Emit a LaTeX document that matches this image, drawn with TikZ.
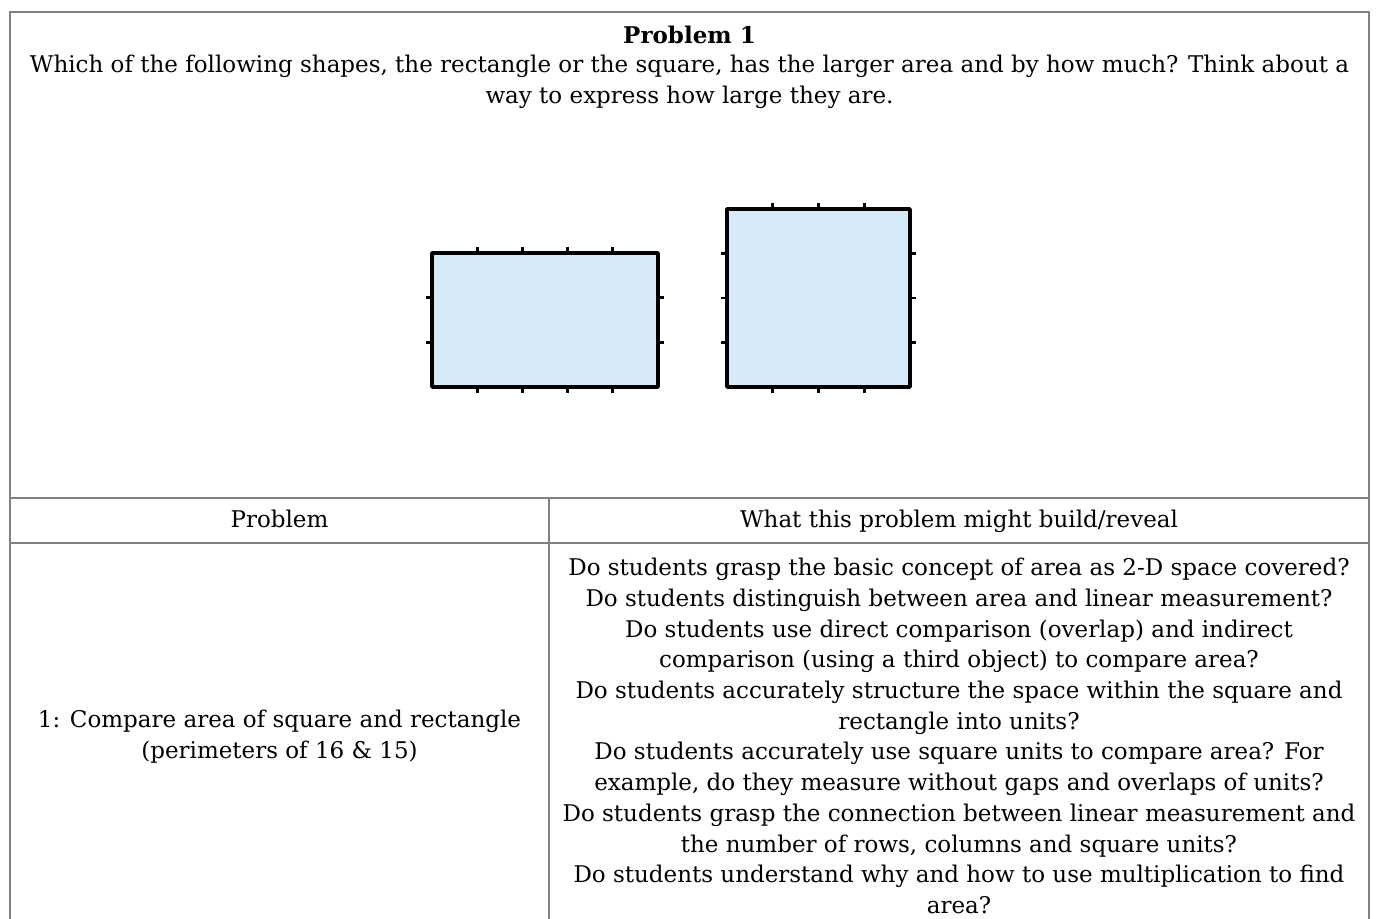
\documentclass[tikz,border=0pt]{standalone}
\usepackage{fontspec}
\setmainfont{DejaVu Serif}
\definecolor{areablue}{RGB}{214,234,248}
\definecolor{rulegray}{RGB}{128,128,128}

\begin{document}
\begin{tikzpicture}[
    x=0.5pt, y=-0.5pt,
    rule/.style={draw=rulegray, line width=1pt},
    areabox/.style={draw=black, line width=1.8pt, fill=areablue, line join=round},
    unittick/.style={draw=black, line width=1.4pt},
    cell/.style={align=center, inner sep=0pt, font=\fontsize{11.5}{15.35}\selectfont}
]
\useasboundingbox (0,0) rectangle (1376,919);

% table rules (the last row runs off the bottom)
\draw[rule] (10,919) -- (10,12) -- (1369,12) -- (1369,919);
\draw[rule] (10,498) -- (1369,498);
\draw[rule] (10,543) -- (1369,543);
\draw[rule] (549,498) -- (549,919);

% problem statement
\node[cell, font=\fontsize{11.5}{15.35}\selectfont\bfseries] (title) at (689.5,35) {Problem 1};
\node[cell] (question) at (689.5,81.5) {Which of the following shapes, the rectangle or the square, has the larger area and by how much? Think about a\\way to express how large they are.};

% rectangle 5 x 3
\draw[areabox] (432,253) rectangle (658,387);
\foreach \i in {1,...,4} {
    \draw[unittick] (432+45.2*\i,253) -- ++(0,-6);
    \draw[unittick] (432+45.2*\i,387) -- ++(0,6);
}
\foreach \j in {1,2} {
    \draw[unittick] (432,253+44.7*\j) -- ++(-6,0);
    \draw[unittick] (658,253+44.7*\j) -- ++(6,0);
}

% square 4 x 4
\draw[areabox] (727,209) rectangle (910,387);
\foreach \i in {1,...,3} {
    \draw[unittick] (727+45.75*\i,209) -- ++(0,-6);
    \draw[unittick] (727+45.75*\i,387) -- ++(0,6);
}
\foreach \j in {1,...,3} {
    \draw[unittick] (727,209+44.5*\j) -- ++(-6,0);
    \draw[unittick] (910,209+44.5*\j) -- ++(6,0);
}

% header row
\node[cell, anchor=base] (probhead) at (279.5,527) {Problem};
\node[cell, anchor=base] (revealhead) at (959,527) {What this problem might build/reveal};

% body row
\node[cell] (probtext) at (279.5,737) {1: Compare area of square and rectangle\\(perimeters of 16 \& 15)};
\node[cell] (revealtext) at (959,736) {Do students grasp the basic concept of area as 2-D space covered?\\
Do students distinguish between area and linear measurement?\\
Do students use direct comparison (overlap) and indirect\\
comparison (using a third object) to compare area?\\
Do students accurately structure the space within the square and\\
rectangle into units?\\
Do students accurately use square units to compare area? For\\
example, do they measure without gaps and overlaps of units?\\
Do students grasp the connection between linear measurement and\\
the number of rows, columns and square units?\\
Do students understand why and how to use multiplication to find\\
area?};
\end{tikzpicture}
\end{document}
